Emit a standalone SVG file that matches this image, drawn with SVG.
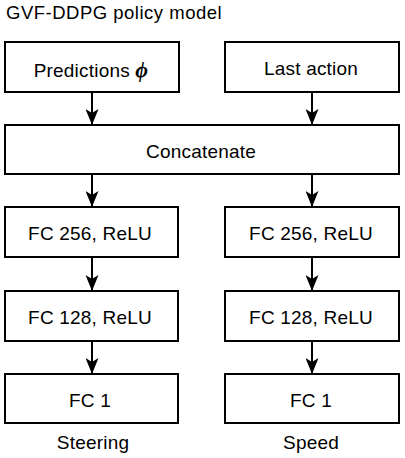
<svg xmlns="http://www.w3.org/2000/svg" width="405" height="458" viewBox="0 0 405 458">
<style>
.box{fill:#fff;stroke:#000;stroke-width:2}
.t{font-family:"Liberation Sans",Arial,sans-serif;font-size:19px;letter-spacing:0.2px;fill:#000;text-anchor:middle}
.c{stroke:#000;stroke-width:2;fill:none}
</style>
<defs>
<marker id="ah" markerWidth="16" markerHeight="13" viewBox="0 0 16 13" refX="16" refY="6.5" orient="auto" markerUnits="userSpaceOnUse">
<path d="M0,0 L16,6.5 L0,13 L4,6.5 Z" fill="#000"/>
</marker>
</defs>
<rect width="405" height="458" fill="#fff"/>
<text x="6" y="18.5" style="font-family:'Liberation Sans',Arial,sans-serif;font-size:18.5px;letter-spacing:0.5px;fill:#000">GVF-DDPG policy model</text>
<g id="connectors">
<line class="c" x1="92" y1="92" x2="92" y2="125" marker-end="url(#ah)"/>
<line class="c" x1="312" y1="92" x2="312" y2="125" marker-end="url(#ah)"/>
<line class="c" x1="92" y1="174" x2="92" y2="207" marker-end="url(#ah)"/>
<line class="c" x1="312" y1="174" x2="312" y2="207" marker-end="url(#ah)"/>
<line class="c" x1="92" y1="257" x2="92" y2="291" marker-end="url(#ah)"/>
<line class="c" x1="312" y1="257" x2="312" y2="291" marker-end="url(#ah)"/>
<line class="c" x1="92" y1="341" x2="92" y2="374" marker-end="url(#ah)"/>
<line class="c" x1="312" y1="341" x2="312" y2="374" marker-end="url(#ah)"/>
</g>
<g id="predictions"><rect class="box" x="5" y="42" width="174" height="50"/><text class="t" x="91" y="76.5">Predictions <tspan style="font-family:'Liberation Serif',serif;font-weight:bold;font-style:italic;font-size:22px">ϕ</tspan></text></g>
<g id="last-action"><rect class="box" x="225" y="42" width="174" height="50"/><text class="t" x="311" y="75">Last action</text></g>
<g id="concatenate"><rect class="box" x="5" y="125" width="394" height="49"/><text class="t" x="201" y="157.5">Concatenate</text></g>
<g id="fc256-l"><rect class="box" x="5" y="207" width="173" height="50"/><text class="t" x="90" y="239.5">FC 256, ReLU</text></g>
<g id="fc256-r"><rect class="box" x="225" y="207" width="174" height="50"/><text class="t" x="311" y="239.5">FC 256, ReLU</text></g>
<g id="fc128-l"><rect class="box" x="5" y="291" width="173" height="50"/><text class="t" x="90" y="323.5">FC 128, ReLU</text></g>
<g id="fc128-r"><rect class="box" x="225" y="291" width="174" height="50"/><text class="t" x="311" y="323.5">FC 128, ReLU</text></g>
<g id="fc1-l"><rect class="box" x="5" y="374" width="173" height="49"/><text class="t" x="90" y="407">FC 1</text></g>
<g id="fc1-r"><rect class="box" x="225" y="374" width="174" height="49"/><text class="t" x="311" y="407">FC 1</text></g>
<text class="t" x="93" y="449">Steering</text>
<text class="t" x="311" y="449">Speed</text>
</svg>
